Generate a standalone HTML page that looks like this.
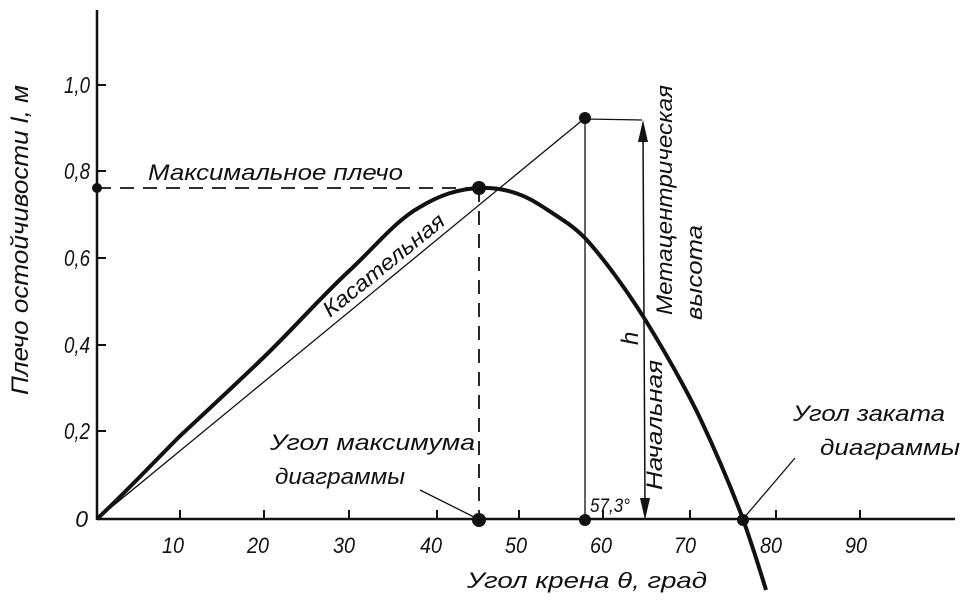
<!DOCTYPE html>
<html><head><meta charset="utf-8"><style>
html,body{margin:0;padding:0;background:#fff}
svg{display:block}
text{font-family:"Liberation Sans","DejaVu Sans",sans-serif;font-style:italic;fill:#111}
</style></head><body>
<svg width="965" height="612" viewBox="0 0 965 612" xmlns="http://www.w3.org/2000/svg">
<g stroke="#111" fill="none">
<line x1="97" y1="10" x2="97" y2="520" stroke-width="2.5"/>
<line x1="97" y1="519" x2="955" y2="519" stroke-width="2.5"/>
<line x1="97" y1="85" x2="106" y2="85" stroke-width="2"/>
<line x1="97" y1="171" x2="106" y2="171" stroke-width="2"/>
<line x1="97" y1="258" x2="106" y2="258" stroke-width="2"/>
<line x1="97" y1="345" x2="106" y2="345" stroke-width="2"/>
<line x1="97" y1="431" x2="106" y2="431" stroke-width="2"/>
<g stroke-width="2">
<line x1="180" y1="519" x2="180" y2="510"/>
<line x1="264" y1="519" x2="264" y2="510"/>
<line x1="349" y1="519" x2="349" y2="510"/>
<line x1="437" y1="519" x2="437" y2="510"/>
<line x1="519" y1="519" x2="519" y2="510"/>
<line x1="603" y1="519" x2="603" y2="510"/>
<line x1="690" y1="519" x2="690" y2="510"/>
<line x1="776" y1="519" x2="776" y2="510"/>
<line x1="860" y1="519" x2="860" y2="510"/>
</g>
<line x1="97" y1="188" x2="478" y2="188" stroke-width="1.8" stroke-dasharray="14,9"/>
<line x1="479" y1="188" x2="479" y2="519" stroke-width="1.8" stroke-dasharray="14,9"/>
<line x1="97" y1="519" x2="585" y2="118" stroke-width="1.3"/>
<line x1="585" y1="118" x2="585" y2="519" stroke-width="1.3"/>
<line x1="585" y1="119" x2="642" y2="120" stroke-width="1.3"/>
<line x1="643" y1="135" x2="645" y2="505" stroke-width="1.5"/>
<path d="M643,120 L638,142 L648,142 Z" fill="#111" stroke="none"/>
<path d="M645,520 L640,498 L650,498 Z" fill="#111" stroke="none"/>
<path d="M97,519 C130,488 150,466 179,437 C210,408 236,384 264,357 C292,330 320,298 349,271 C375,247 395,221 420,207 C440,195 458,189 479,188 C500,187 520,192 540,205 C560,218 572,225 585,238 C605,260 628,292 646,321 C665,352 684,385 700,418 C716,452 732,490 743,519 C752,545 760,570 766,590" stroke-width="4"/>
<line x1="420" y1="490" x2="478" y2="519" stroke-width="1.3"/>
<line x1="795" y1="458" x2="743" y2="519" stroke-width="1.3"/>
</g>
<g fill="#111">
<circle cx="97" cy="188" r="5"/>
<circle cx="479" cy="188" r="7"/>
<circle cx="479" cy="520" r="7"/>
<circle cx="585" cy="118" r="6"/>
<circle cx="585" cy="520" r="6"/>
<circle cx="743" cy="520" r="6"/>
</g>
<g font-size="23" text-anchor="end">
<text x="90" y="93" textLength="26" lengthAdjust="spacingAndGlyphs">1,0</text>
<text x="90" y="179" textLength="26" lengthAdjust="spacingAndGlyphs">0,8</text>
<text x="90" y="266" textLength="26" lengthAdjust="spacingAndGlyphs">0,6</text>
<text x="90" y="353" textLength="26" lengthAdjust="spacingAndGlyphs">0,4</text>
<text x="90" y="439" textLength="26" lengthAdjust="spacingAndGlyphs">0,2</text>
<text x="88" y="527">0</text>
</g>
<g font-size="22">
<text x="162" y="553" textLength="22" lengthAdjust="spacingAndGlyphs">10</text>
<text x="247" y="553" textLength="22" lengthAdjust="spacingAndGlyphs">20</text>
<text x="333" y="553" textLength="22" lengthAdjust="spacingAndGlyphs">30</text>
<text x="420" y="553" textLength="22" lengthAdjust="spacingAndGlyphs">40</text>
<text x="505" y="553" textLength="22" lengthAdjust="spacingAndGlyphs">50</text>
<text x="590" y="553" textLength="22" lengthAdjust="spacingAndGlyphs">60</text>
<text x="674" y="553" textLength="22" lengthAdjust="spacingAndGlyphs">70</text>
<text x="760" y="553" textLength="22" lengthAdjust="spacingAndGlyphs">80</text>
<text x="845" y="553" textLength="22" lengthAdjust="spacingAndGlyphs">90</text>
</g>
<g font-size="22">
<text x="148" y="180" textLength="255" lengthAdjust="spacingAndGlyphs">Максимальное плечо</text>
<text x="270" y="450" textLength="205" lengthAdjust="spacingAndGlyphs">Угол максимума</text>
<text x="275" y="484" textLength="130" lengthAdjust="spacingAndGlyphs">диаграммы</text>
<text x="793" y="421" textLength="152" lengthAdjust="spacingAndGlyphs">Угол заката</text>
<text x="820" y="455" textLength="140" lengthAdjust="spacingAndGlyphs">диаграммы</text>
<text x="467" y="588" textLength="240" lengthAdjust="spacingAndGlyphs">Угол крена θ, град</text>
<text x="590" y="512" font-size="19" textLength="40" lengthAdjust="spacingAndGlyphs">57,3°</text>
<text transform="translate(330,318) rotate(-39)" textLength="150" lengthAdjust="spacingAndGlyphs">Касательная</text>
<text transform="translate(28,395) rotate(-90)" font-size="24" textLength="310" lengthAdjust="spacingAndGlyphs">Плечо остойчивости l, м</text>
<text transform="translate(672,315) rotate(-90)" textLength="230" lengthAdjust="spacingAndGlyphs">Метацентрическая</text>
<text transform="translate(702,320) rotate(-90)" textLength="95" lengthAdjust="spacingAndGlyphs">высота</text>
<text transform="translate(662,490) rotate(-90)" textLength="130" lengthAdjust="spacingAndGlyphs">Начальная</text>
<text transform="translate(638,345) rotate(-90)" font-size="24">h</text>
</g>
</svg>
</body></html>
